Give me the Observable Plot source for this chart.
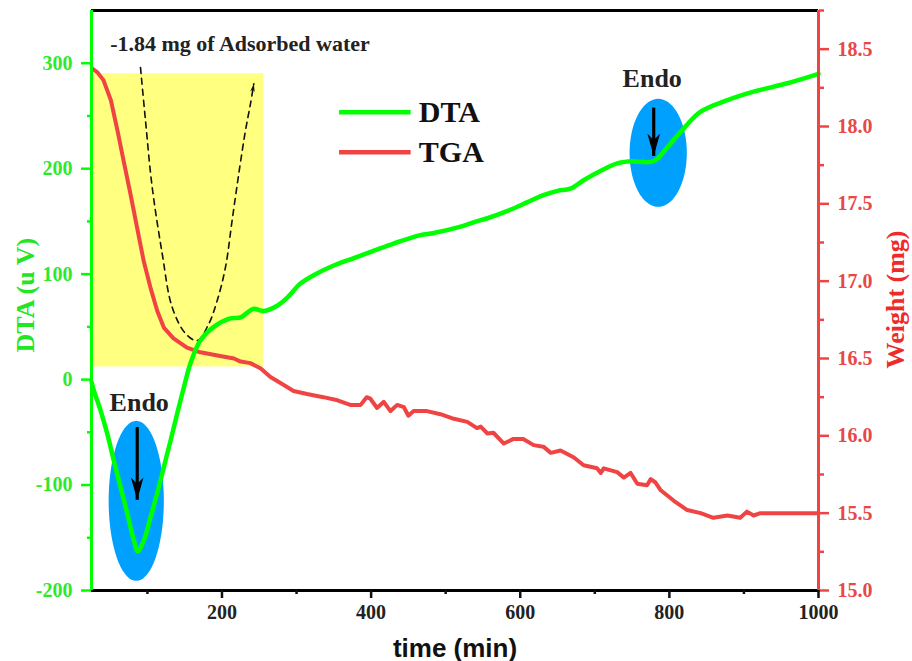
<!DOCTYPE html>
<html><head><meta charset="utf-8">
<script src="https://cdn.jsdelivr.net/npm/d3@7"></script>
<script src="https://cdn.jsdelivr.net/npm/@observablehq/plot@0.6"></script>
<style>
html,body{margin:0;padding:0;background:#fff;}
svg{display:block;}
</style></head><body><div id="chart"></div>
<script>
// ---- data ----
const dtaTime = [25,28,37,46,55,64,73,82,87,95,104,113,122,131,140,149,158,171,189,211,225,242,256,274,288,305,323,346,376,403,430,466,484,520,537,556,583,609,631,650,667,685,708,730,748,779,797,819,842,878,913,958,1000];
const dtaValue = [-2,-10,-29,-51,-77,-102,-127,-153,-163,-153,-131,-108,-83,-58,-32,-7,16,37,50,58,59,67,65,70,78,91,99,107,115,122,129,137,139,145,149,153,160,168,175,179,181,189,198,205,207,207,220,238,254,265,273,281,290];
const tgaTime = [26,33,41,51,60,68,77,86,95,104,113,122,135,153,171,194,216,225,238,252,265,279,296,314,336,355,372,386,394,399,408,417,426,435,444,450,457,475,493,511,529,542,547,556,564,578,591,604,618,631,641,654,672,685,703,708,712,730,739,748,757,770,775,781,788,806,824,842,859,878,895,904,913,922,1000];
const tgaWeight = [18.375,18.35,18.30,18.17,17.97,17.78,17.57,17.35,17.13,16.96,16.81,16.70,16.63,16.57,16.54,16.52,16.50,16.48,16.47,16.435,16.38,16.34,16.29,16.27,16.25,16.23,16.20,16.20,16.25,16.24,16.18,16.22,16.16,16.20,16.185,16.13,16.16,16.16,16.14,16.11,16.09,16.05,16.06,16.015,16.02,15.95,15.98,15.98,15.94,15.93,15.89,15.905,15.86,15.81,15.79,15.76,15.79,15.765,15.73,15.76,15.69,15.68,15.72,15.70,15.65,15.58,15.52,15.50,15.47,15.485,15.47,15.51,15.485,15.5,15.5];
const seriesNames = ["DTA", "TGA"];
const dtaTicks = [-200,-100,0,100,200,300];
const dtaMinorTicks = [-150,-50,50,150,250];
const weightTicks = [15.0,15.5,16.0,16.5,17.0,17.5,18.0,18.5];
const weightMinorTicks = [15.25,15.75,16.25,16.75,17.25,17.75,18.25,18.75];
const timeTicks = [200,400,600,800,1000];
const timeMinorTicks = [100,300,500,700,900];
const annotationText = "-1.84 mg of Adsorbed water";
const endoLabels = ["Endo", "Endo"];
const xTitle = "time (min)", yTitle = "DTA (u V)", y2Title = "Weight (mg)";
// dashed guide curve (time, DTA units)
const dashTime = [90.7,97.4,106.4,119.8,133.2,151.1,166.8,182.3,193.6,204.7,213.6,222.5,231.5,238.2,242.7];
const dashValue = [296,245.7,182.4,119.6,68.6,43.7,37,52.9,75,106.6,150.9,195.1,236.2,261.5,280.5];

// ---- layout constants ----
const GREEN = "#00ff00", GREEN_TXT = "#2ee82e", RED = "#f04444", RED_TXT = "#e84848", BLUE = "#00a0ff", YELLOW = "#ffff80";
const SERIF = "'Liberation Serif','Times New Roman',serif";
const SANS = "'Liberation Sans',Arial,sans-serif";
const xDomain = [25, 1000], yDomain = [-200, 350], wDomain = [15, 18.75];
const yOfW = w => yDomain[0] + (w - wDomain[0]) * (yDomain[1] - yDomain[0]) / (wDomain[1] - wDomain[0]);
const wOfY = y => wDomain[0] + (y - yDomain[0]) * (wDomain[1] - wDomain[0]) / (yDomain[1] - yDomain[0]);

const dta = dtaTime.map((t, i) => ({t, v: dtaValue[i]}));
const tga = tgaTime.map((t, i) => ({t, v: yOfW(tgaWeight[i])}));
const dash = dashTime.map((t, i) => ({t, v: dashValue[i]}));

function ellipseSymbol(ratio) {
  return {draw(ctx, size) {
    const r = Math.sqrt(size / Math.PI), n = 72;
    for (let i = 0; i <= n; i++) {
      const a = 2 * Math.PI * i / n, x = r * ratio * Math.cos(a), y = r * Math.sin(a);
      if (i) ctx.lineTo(x, y); else ctx.moveTo(x, y);
    }
    ctx.closePath();
  }};
}
const arrowHead = {draw(ctx, size) {
  const s = Math.sqrt(size / Math.PI);
  ctx.moveTo(0, 0); ctx.lineTo(-s * 0.45, -s * 1.6); ctx.lineTo(0, -s * 1.15); ctx.lineTo(s * 0.45, -s * 1.6); ctx.closePath();
}};

const highlight = [{x1: 25, x2: 256, y1: 12, y2: 290}];
const arrows = [{x: 86.3, y1: -45, y2: -114}, {x: 779, y1: 258, y2: 212}];
const endoPos = [{x: 89, y: -22}, {x: 777, y: 285.5}];
const legendPos = [{x1: 357, x2: 453, y: 253.6}, {x1: 357, x2: 453, y: 215.6}];

const plot = Plot.plot({
  width: 912, height: 661,
  marginLeft: 91, marginRight: 94, marginTop: 10, marginBottom: 71,
  x: {domain: xDomain},
  y: {domain: yDomain},
  style: {fontFamily: SERIF, fontWeight: "bold", background: "#fff", overflow: "visible"},
  marks: [
    Plot.rect(highlight, {x1: "x1", x2: "x2", y1: "y1", y2: "y2", fill: YELLOW}),
    Plot.dot([{t: 85, v: -115}], {x: "t", y: "v", r: 80, symbol: ellipseSymbol(0.345), fill: BLUE, stroke: "none"}),
    Plot.dot([{t: 785, v: 215}], {x: "t", y: "v", r: 54, symbol: ellipseSymbol(0.53), fill: BLUE, stroke: "none"}),
    Plot.line(dash, {x: "t", y: "v", curve: "catmull-rom", stroke: "#111", strokeWidth: 1.6, strokeDasharray: "6,5"}),
    Plot.dot([dash[dash.length - 1]], {x: "t", y: "v", r: 5, symbol: arrowHead, rotate: 190, fill: "#111", stroke: "none"}),
    Plot.line(tga, {x: "t", y: "v", stroke: RED, strokeWidth: 4}),
    Plot.line(dta, {x: "t", y: "v", curve: "catmull-rom", stroke: GREEN, strokeWidth: 4.5}),
    Plot.link(arrows, {x1: "x", x2: "x", y1: "y1", y2: "y2", stroke: "#000", strokeWidth: 3.2}),
    Plot.dot(arrows, {x: "x", y: "y2", r: 14, symbol: arrowHead, fill: "#000", stroke: "none"}),
    Plot.text([annotationText], {x: () => 50, y: () => 318, text: d => d, textAnchor: "start", fontSize: 22, fill: "#222"}),
    Plot.text(endoLabels, {x: (d, i) => endoPos[i].x, y: (d, i) => endoPos[i].y, text: d => d, fontSize: 26, fill: "#222"}),
    Plot.link(legendPos, {x1: "x1", x2: "x2", y1: "y", y2: "y", stroke: (d, i) => [GREEN, RED][i], strokeWidth: 4.5}),
    Plot.text(seriesNames, {x: (d, i) => legendPos[i].x2 + 11, y: (d, i) => legendPos[i].y, text: d => d, textAnchor: "start", fontSize: 30, fill: "#111"}),
    // frame
    Plot.ruleY([yDomain[1], yDomain[0]], {stroke: "#000", strokeWidth: 3}),
    Plot.ruleX([xDomain[0]], {stroke: GREEN, strokeWidth: 3}),
    Plot.ruleX([xDomain[1]], {stroke: RED, strokeWidth: 3}),
    // axes
    Plot.axisY(dtaTicks, {anchor: "left", tickSize: 10, tickPadding: 9, strokeWidth: 2.5, stroke: GREEN, fill: GREEN_TXT, tickFormat: d => String(d), fontSize: 20, fontWeight: "bold", label: null}),
    Plot.axisY(dtaMinorTicks, {anchor: "left", tickSize: 4, strokeWidth: 2.5, stroke: GREEN, tickFormat: () => "", label: null}),
    Plot.axisY(weightTicks.map(yOfW), {anchor: "right", tickSize: 10, tickPadding: 9, strokeWidth: 2.5, stroke: RED, fill: RED_TXT, tickFormat: d => wOfY(d).toFixed(1), fontSize: 20, fontWeight: "bold", label: null}),
    Plot.axisY(weightMinorTicks.map(yOfW), {anchor: "right", tickSize: 5, strokeWidth: 2.5, stroke: RED, tickFormat: () => "", label: null}),
    Plot.axisX(timeTicks, {anchor: "bottom", tickSize: 8, tickPadding: 6, strokeWidth: 2.5, stroke: "#111", fill: "#222", tickFormat: d => String(d), fontSize: 20, fontWeight: "bold", label: null}),
    Plot.axisX(timeMinorTicks, {anchor: "bottom", tickSize: 4, strokeWidth: 2.5, stroke: "#111", tickFormat: () => "", label: null}),
    // axis titles
    Plot.text([xTitle], {frameAnchor: "bottom", dy: 58, textAnchor: "middle", lineAnchor: "middle", text: d => d, fontFamily: SANS, fontSize: 26, fill: "#111"}),
    Plot.text([yTitle], {x: () => -63, y: () => 80, rotate: -90, textAnchor: "middle", lineAnchor: "middle", text: d => d, fontSize: 26, fill: "#22e622"}),
    Plot.text([y2Title], {x: () => 1103, y: () => 76, rotate: -90, textAnchor: "middle", lineAnchor: "middle", text: d => d, fontSize: 26, fill: "#ee2a2a"})
  ]
});
document.getElementById("chart").append(plot);
</script>
</body></html>
